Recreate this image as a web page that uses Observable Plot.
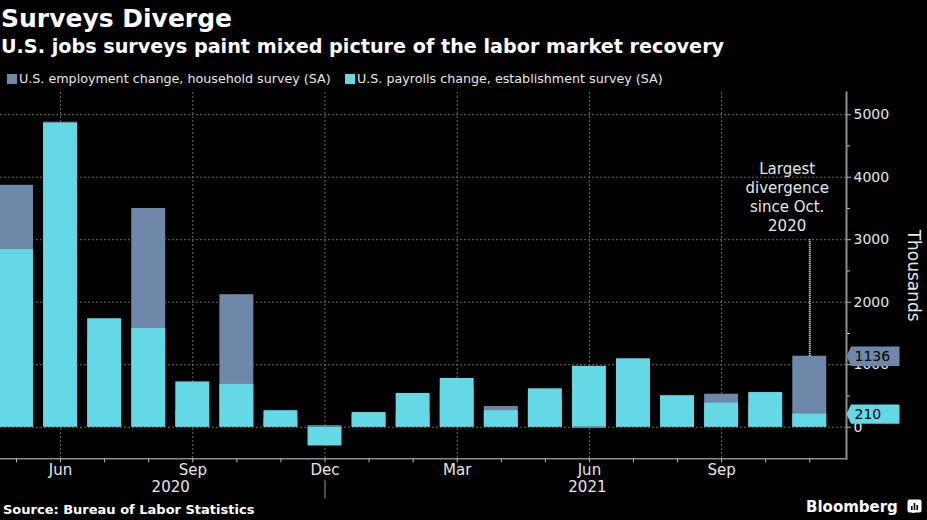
<!DOCTYPE html>
<html>
<head>
<meta charset="utf-8">
<script src="https://cdn.jsdelivr.net/npm/d3@7"></script>
<script src="https://cdn.jsdelivr.net/npm/@observablehq/plot@0.6"></script>
<style>
  html, body { margin: 0; padding: 0; background: #000; }
  #root { position: relative; width: 927px; height: 520px; background: #000; overflow: hidden;
          font-family: "DejaVu Sans", sans-serif; color: #fff; }
  .title { position: absolute; left: 1px; top: 6px; font-size: 25px; line-height: 25px; font-weight: bold; white-space: nowrap; }
  .subtitle { position: absolute; left: 1px; top: 37px; font-size: 19.2px; line-height: 19px; font-weight: bold; white-space: nowrap; }
  .legend-item { position: absolute; top: 72px; font-size: 12.7px; line-height: 13px; color: #e6e6e6; white-space: nowrap; }
  .legend-item .sw { display: inline-block; width: 10px; height: 10px; margin-right: 2px; vertical-align: -1px; }
  #chart { position: absolute; left: 0; top: 86px; }
  .source { position: absolute; left: 3px; top: 503px; font-size: 13px; line-height: 13px; font-weight: bold; white-space: nowrap; }
  .brand { position: absolute; left: 806px; top: 500px; font-size: 15px; line-height: 15px; font-weight: bold; white-space: nowrap; }
  .brand-icon { position: absolute; left: 907px; top: 499px; }
</style>
</head>
<body>
<div id="root">
  <div class="title">Surveys Diverge</div>
  <div class="subtitle">U.S. jobs surveys paint mixed picture of the labor market recovery</div>
  <div id="legend"></div>
  <div id="chart"></div>
  <div class="source">Source: Bureau of Labor Statistics</div>
  <div class="brand">Bloomberg</div>
  <svg class="brand-icon" width="15" height="15" viewBox="0 0 15 15">
    <rect x="0.5" y="0.5" width="14" height="13" rx="2" fill="#fff"/>
    <path d="M5 14 L7.5 11 L7.5 14 Z" fill="#fff"/>
    <rect x="4" y="7" width="1.6" height="4" fill="#000"/>
    <rect x="6.7" y="4" width="1.6" height="7" fill="#000"/>
    <rect x="9.4" y="6" width="1.6" height="5" fill="#000"/>
  </svg>
</div>
<script>
// ---- Data (thousands of jobs, monthly change, SA) ----
const months = ["2020-05","2020-06","2020-07","2020-08","2020-09","2020-10","2020-11","2020-12",
                "2021-01","2021-02","2021-03","2021-04","2021-05","2021-06","2021-07","2021-08",
                "2021-09","2021-10","2021-11"];
const household = [3870, 4880, 1350, 3500, 275, 2120, 150, 25, 201, 208, 609, 331, 444, -18, 1043, 490, 528, 359, 1136];
const payroll   = [2840, 4860, 1735, 1580, 725, 685, 265, -300, 235, 540, 780, 265, 615, 975, 1095, 505, 385, 555, 210];
const seriesNames = ["U.S. employment change, household survey (SA)", "U.S. payrolls change, establishment survey (SA)"];
const monthLabels = {"03": "Mar", "06": "Jun", "09": "Sep", "12": "Dec"};
const yTicks = [0, 1000, 2000, 3000, 4000, 5000];
const yMinorTicks = [500, 1500, 2500, 3500, 4500];
const yearSeparator = ["2020-12"];
const annotationText = "Largest\ndivergence\nsince Oct.\n2020";
const annotationTop = 3000;

// ---- Styles ----
const HH = "#6f88a9";
const PR = "#64d8e5";
const GRID = "#666";
const AXIS = "#8c8c8c";
const TXT = "#e6e6e6";

// legend
const legend = document.getElementById("legend");
[[seriesNames[0], HH, 7], [seriesNames[1], PR, 345]].forEach(([name, c, left]) => {
  const d = document.createElement("div");
  d.className = "legend-item";
  d.style.left = left + "px";
  d.innerHTML = `<span class="sw" style="background:${c}"></span>${name}`;
  legend.appendChild(d);
});

const rows = months.map((m, i) => ({month: m, household: household[i], payroll: payroll[i]}));
const labeledMonths = months.filter(m => monthLabels[m.slice(5)]);
const last = rows[rows.length - 1];
const annotation = [{month: last.month, top: annotationTop, bottom: last.household, text: annotationText}];
const hhEnd = [{value: last.household}];
const prEnd = [{value: last.payroll}];

const tag = {
  draw(ctx) {
    ctx.moveTo(0, 0);
    ctx.lineTo(4.5, -9.7);
    ctx.lineTo(53, -9.7);
    ctx.lineTo(53, 9.7);
    ctx.lineTo(4.5, 9.7);
    ctx.closePath();
  }
};

const chart = Plot.plot({
  width: 927,
  height: 414,
  marginTop: 6,
  marginBottom: 41.7,
  marginLeft: 0,
  marginRight: 81,
  style: {background: "#000", color: TXT, fontFamily: "DejaVu Sans, sans-serif", fontSize: "14px", overflow: "visible"},
  x: {type: "band", domain: months, range: [-6.03, 831.3], paddingInner: 0.23, paddingOuter: 0.115, round: false},
  y: {domain: [-505, 5355]},
  marks: [
    Plot.gridY(yTicks, {stroke: GRID, strokeOpacity: 1, strokeDasharray: "2,2"}),
    Plot.gridX(labeledMonths, {stroke: GRID, strokeOpacity: 1, strokeDasharray: "2,2"}),
    Plot.barY(rows, {x: "month", y: "household", fill: HH}),
    Plot.barY(rows, {x: "month", y: "payroll", fill: PR}),
    Plot.frame({anchor: "right", stroke: AXIS, strokeWidth: 2}),
    Plot.frame({anchor: "bottom", stroke: AXIS, strokeWidth: 1.5}),
    Plot.axisY(yTicks, {anchor: "right", tickSize: 4, tickPadding: 3, fontSize: 14, fill: TXT, stroke: "#bbb",
                        tickFormat: d => String(d), label: null}),
    Plot.axisY(yMinorTicks, {anchor: "right", tickSize: 3, tickFormat: () => "", stroke: "#bbb", label: null}),
    Plot.axisX(months, {anchor: "bottom", tickSize: 4, tickPadding: 2, stroke: "#bbb", fill: TXT, fontSize: 15,
                        tickFormat: m => monthLabels[m.slice(5)] ?? "", label: null}),
    Plot.axisX(yearSeparator, {anchor: "bottom", tickSize: 18, dy: 22, stroke: "#999", tickFormat: () => "", label: null}),
    Plot.text(["2020"], {x: ["2020-08"], frameAnchor: "bottom", dy: 33, dx: 22, fontSize: 15, fill: TXT}),
    Plot.text(["2021"], {x: ["2021-06"], frameAnchor: "bottom", dy: 33, dx: -2, fontSize: 15, fill: TXT}),
    Plot.ruleX(annotation, {x: "month", y1: "bottom", y2: "top", stroke: "#fff", strokeWidth: 2, strokeDasharray: "1,1"}),
    Plot.text(annotation, {x: "month", y: "top", text: "text", lineAnchor: "bottom", dx: -22.6, dy: -9, fontSize: 15, lineHeight: 1.27, fill: TXT}),
    Plot.dot(hhEnd, {y: "value", frameAnchor: "right", symbol: tag, fill: HH, stroke: null}),
    Plot.dot(prEnd, {y: "value", frameAnchor: "right", symbol: tag, fill: PR, stroke: null}),
    Plot.text(hhEnd, {y: "value", text: d => String(d.value), frameAnchor: "right", dx: 8, textAnchor: "start", fill: "#000", fontSize: 14}),
    Plot.text(prEnd, {y: "value", text: d => String(d.value), frameAnchor: "right", dx: 8, textAnchor: "start", fill: "#000", fontSize: 14}),
    Plot.text(["Thousands"], {frameAnchor: "right", textAnchor: "middle", rotate: 90, dx: 67, fontSize: 17, fill: TXT})
  ]
});
document.getElementById("chart").appendChild(chart);
</script>
</body>
</html>
